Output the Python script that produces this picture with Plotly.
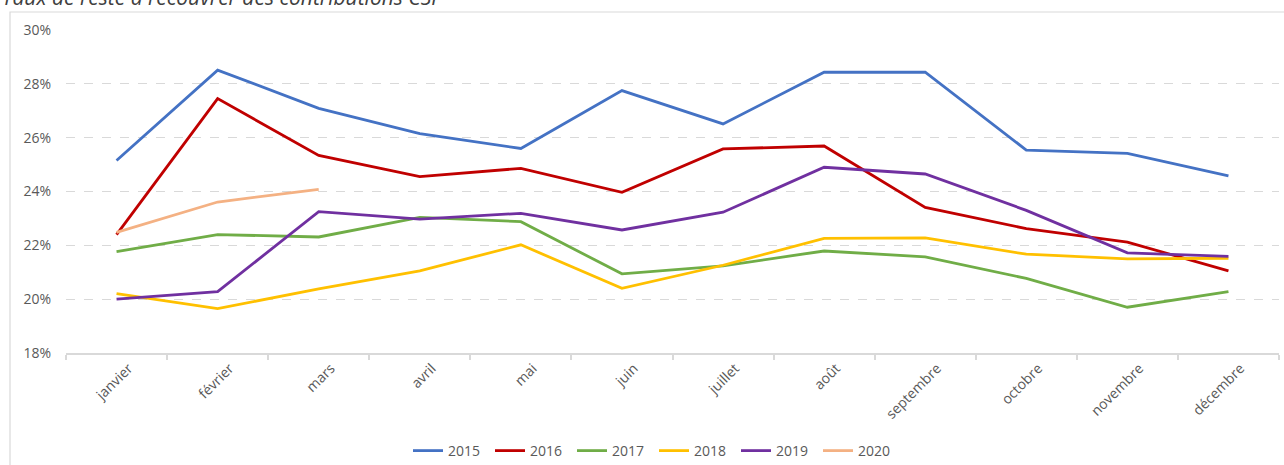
import plotly.graph_objects as go

months = ["janvier", "février", "mars", "avril", "mai", "juin", "juillet",
          "août", "septembre", "octobre", "novembre", "décembre"]

y2015 = [25.15, 28.51, 27.09, 26.15, 25.60, 27.75, 26.51, 28.43, 28.43, 25.54, 25.42, 24.58]
y2016 = [22.40, 27.45, 25.34, 24.55, 24.86, 23.97, 25.58, 25.69, 23.41, 22.62, 22.12, 21.05]
y2017 = [21.77, 22.40, 22.31, 23.04, 22.88, 20.94, 21.24, 21.79, 21.57, 20.77, 19.70, 20.28]
y2018 = [20.21, 19.65, 20.38, 21.05, 22.02, 20.40, 21.26, 22.26, 22.28, 21.67, 21.50, 21.52]
y2019 = [20.00, 20.28, 23.25, 22.97, 23.19, 22.57, 23.23, 24.90, 24.65, 23.30, 21.72, 21.59]
y2020 = [22.48, 23.61, 24.08]

series = [
    ("2015", y2015, "#4472C4"),
    ("2016", y2016, "#C00000"),
    ("2017", y2017, "#70AD47"),
    ("2018", y2018, "#FFC000"),
    ("2019", y2019, "#7030A0"),
    ("2020", y2020, "#F4B183"),
]

FONT = "Open Sans"
GREY = "#595959"

fig = go.Figure()
for name, vals, color in series:
    fig.add_trace(go.Scatter(
        x=months[:len(vals)], y=vals, name=name, mode="lines",
        line=dict(color=color, width=2.8),
    ))

W, H = 1284, 465
L, R, T, B = 66, 5, 30, 112
pw = W - L - R
ph = H - T - B

def px_to_paper_x(px):
    return (px - L) / pw

def px_to_paper_y(py):
    return (H - B - py) / ph

fig.update_layout(
    width=W, height=H,
    margin=dict(l=L, r=R, t=T, b=B, autoexpand=False),
    paper_bgcolor="white", plot_bgcolor="white",
    font=dict(family=FONT, color=GREY, size=13),
    showlegend=True,
    legend=dict(
        orientation="h", x=px_to_paper_x(654), xanchor="center",
        y=px_to_paper_y(451), yanchor="middle",
        font=dict(size=14, color=GREY), itemwidth=30,
        entrywidth=37, entrywidthmode="pixels",
        bgcolor="rgba(0,0,0,0)",
    ),
    xaxis=dict(
        type="category", categoryorder="array", categoryarray=months,
        range=[-0.5, len(months) - 0.5], automargin=False,
        showline=True, linecolor="#d9d9d9", linewidth=1.5,
        ticks="outside", tickson="boundaries", ticklen=5, tickcolor="#d9d9d9",
        tickwidth=1.5,
        tickangle=-45, showgrid=False, zeroline=False,
        ticklabelshift=12,
        tickfont=dict(size=14, color=GREY),
    ),
    yaxis=dict(
        range=[18, 30], dtick=2, tick0=18, ticksuffix="%", automargin=False,
        showgrid=True, gridcolor="#d9d9d9", griddash="dash", gridwidth=1,
        zeroline=False, showline=False, ticks="",
        ticklabelstandoff=14,
        tickfont=dict(size=14, color=GREY),
    ),
    shapes=[
        dict(type="rect", xref="paper", yref="paper",
             x0=px_to_paper_x(10), x1=px_to_paper_x(1290),
             y0=px_to_paper_y(480), y1=px_to_paper_y(12),
             line=dict(color="#d9d9d9", width=1.2), fillcolor="rgba(0,0,0,0)",
             layer="below"),
    ],
    annotations=[
        dict(text="<i>Taux de reste à recouvrer des contributions CSP</i>",
             xref="paper", yref="paper",
             x=px_to_paper_x(0), xanchor="left",
             y=px_to_paper_y(13), yanchor="bottom",
             showarrow=False, font=dict(size=21, color="#404040", family=FONT)),
    ],
)

fig.write_html("out.html", config={"displayModeBar": False},
               post_script="document.body.style.margin='0px';")
